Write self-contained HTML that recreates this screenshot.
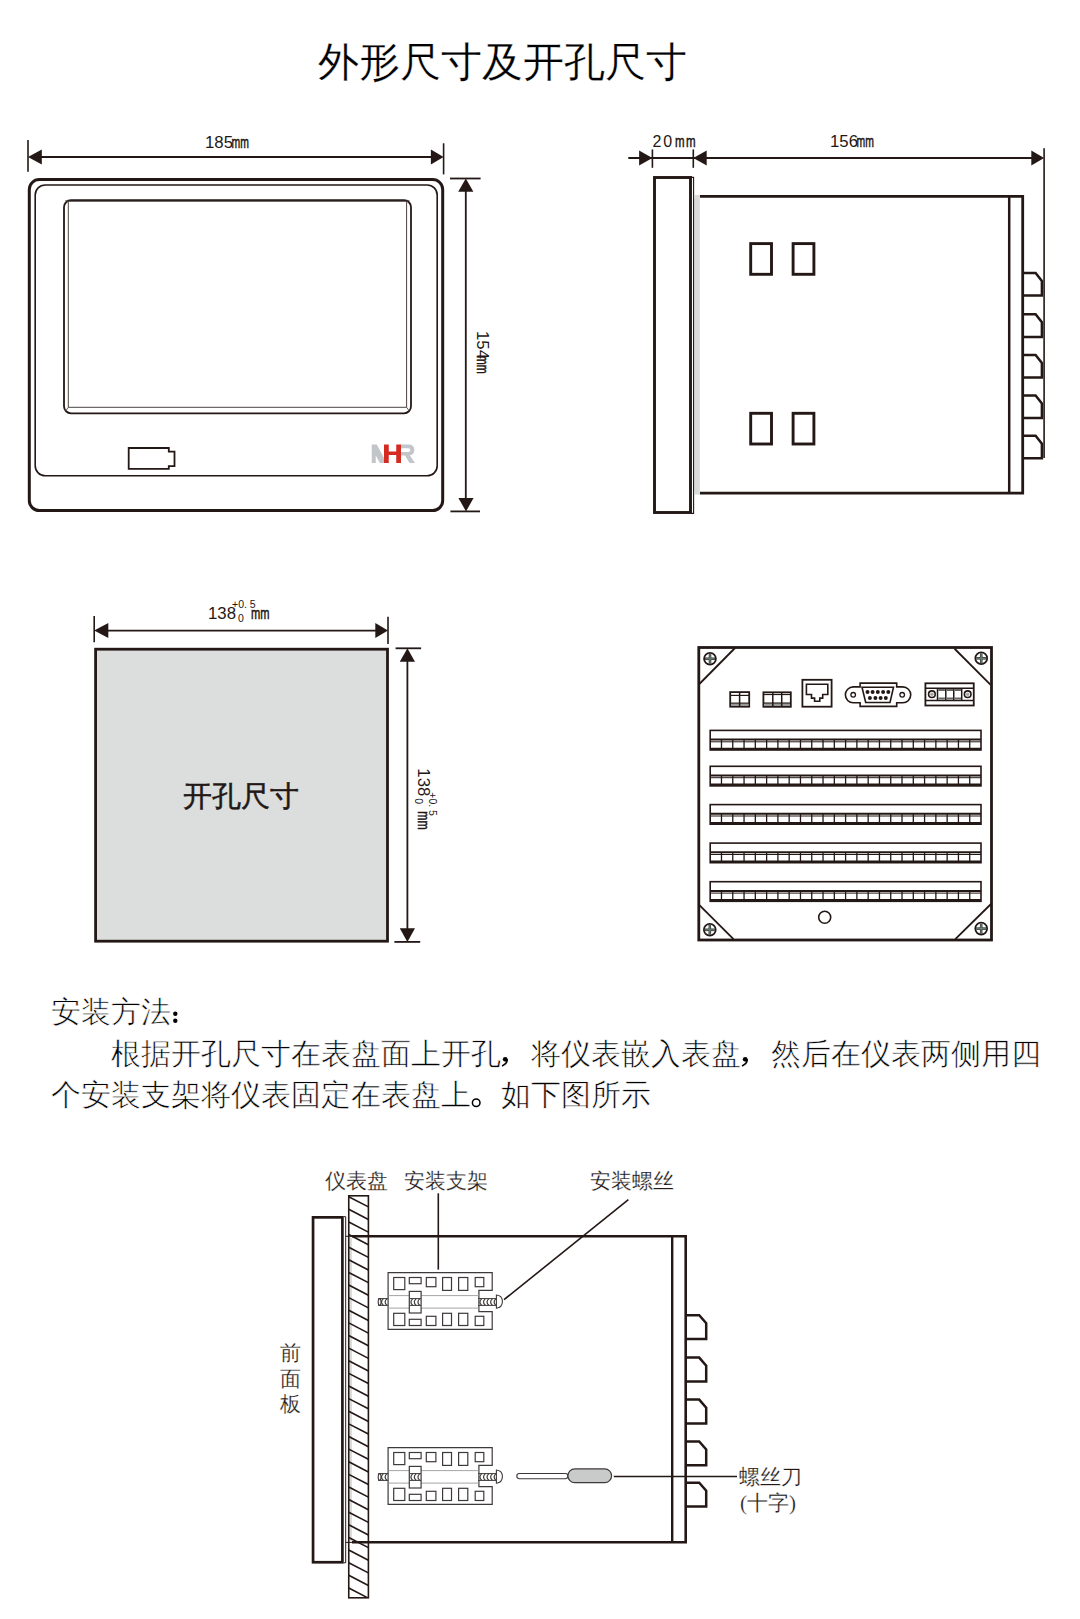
<!DOCTYPE html>
<html><head><meta charset="utf-8"><style>
html,body{margin:0;padding:0;background:#fff;width:1080px;height:1619px;overflow:hidden}
svg{display:block}
</style></head><body>
<svg width="1080" height="1619" viewBox="0 0 1080 1619">
<rect x="29.3" y="179.6" width="413.4" height="331" rx="10" fill="none" stroke="#231815" stroke-width="3" />
<rect x="35.2" y="185" width="402" height="290.8" rx="10" fill="none" stroke="#231815" stroke-width="1.6" />
<rect x="64" y="200.2" width="347" height="213.1" rx="7" fill="none" stroke="#231815" stroke-width="1.8" />
<path d="M68.3,201.3 H406.6 V407.3 H68.3 Z" fill="none" stroke="#4a4444" stroke-width="1" />
<line x1="68.3" y1="407.3" x2="65.3" y2="411.5" stroke="#4a4444" stroke-width="0.9" />
<line x1="406.6" y1="407.3" x2="409.6" y2="411.5" stroke="#4a4444" stroke-width="0.9" />
<line x1="68.3" y1="201.3" x2="65.5" y2="200.5" stroke="#4a4444" stroke-width="0.9" />
<line x1="406.6" y1="201.3" x2="409.4" y2="200.5" stroke="#4a4444" stroke-width="0.9" />
<line x1="28" y1="140" x2="28" y2="171.7" stroke="#231815" stroke-width="1.6" />
<line x1="443.6" y1="143.3" x2="443.6" y2="174.4" stroke="#231815" stroke-width="1.6" />
<line x1="38" y1="157" x2="433" y2="157" stroke="#231815" stroke-width="1.8" />
<polygon points="28,157 41.8,149.5 41.8,164.5" fill="#231815"/>
<polygon points="443.6,157 430.9,149.5 430.9,164.5" fill="#231815"/>
<line x1="450" y1="178.5" x2="480.6" y2="178.5" stroke="#231815" stroke-width="1.8" />
<line x1="450.4" y1="511.4" x2="480" y2="511.4" stroke="#231815" stroke-width="1.8" />
<line x1="465.8" y1="188" x2="465.8" y2="502" stroke="#231815" stroke-width="1.8" />
<polygon points="465.8,178.5 458.2,191.7 473.40000000000003,191.7" fill="#231815"/>
<polygon points="466,511.4 458.4,498 473.6,498" fill="#231815"/>
<path d="M128.7,448 H168.8 V451.7 H174.5 V466.2 H168.8 V468.8 H128.7 Z" fill="none" stroke="#231815" stroke-width="1.8" />
<polygon points="371.75,444.5 376.75,444.5 384,458 384,463 380,463 375.75,455.5 375.75,463 371.75,463" fill="#c2c5c9"/>
<path d="M384,444.5 H388.75 V451.5 H396.25 V444.5 H401 V463 H396.25 V455 H388.75 V463 H384 Z" fill="#d42a1f"/>
<path d="M401,444.5 H408.5 Q414.3,444.5 414.3,450 Q414.3,454.5 409.8,455.3 L414.9,463 H409.6 L405,455.6 H401 Z M401,448.2 V452 H408.2 Q410.4,452 410.4,450.1 Q410.4,448.2 408.2,448.2 Z" fill="#c2c5c9" fill-rule="evenodd"/>
<line x1="628.3" y1="158" x2="1040" y2="158" stroke="#231815" stroke-width="1.8" />
<line x1="652.4" y1="149.4" x2="652.4" y2="167.8" stroke="#231815" stroke-width="1.6" />
<line x1="693.3" y1="149.4" x2="693.3" y2="167.8" stroke="#231815" stroke-width="1.6" />
<line x1="1044.1" y1="148.3" x2="1044.1" y2="458" stroke="#231815" stroke-width="1.6" />
<polygon points="652.4,158 639.1,150.5 639.1,165.5" fill="#231815"/>
<polygon points="693.3,158 706.7,150.5 706.7,165.5" fill="#231815"/>
<polygon points="1044.1,158 1031.3,150.5 1031.3,165.5" fill="#231815"/>
<rect x="694.4" y="197.8" width="5.4" height="294.2" fill="#d9dada"/>
<rect x="654.5" y="177.5" width="36" height="335" rx="0" fill="none" stroke="#231815" stroke-width="2.9" />
<path d="M690.5,177.4 H693.6 V513.4 H690.5" fill="none" stroke="#231815" stroke-width="1.1" />
<path d="M700,196.4 H1022.7 V493.2 H700" fill="none" stroke="#231815" stroke-width="2.8" />
<line x1="694" y1="196.4" x2="700" y2="196.4" stroke="#d9dada" stroke-width="2.8" />
<line x1="694" y1="493.2" x2="700" y2="493.2" stroke="#d9dada" stroke-width="2.8" />
<line x1="1009.2" y1="196.4" x2="1009.2" y2="493.2" stroke="#231815" stroke-width="2.5" />
<rect x="750.7" y="243.6" width="20.8" height="30.7" rx="0" fill="none" stroke="#231815" stroke-width="2.9" />
<rect x="750.7" y="413.3" width="20.8" height="30.7" rx="0" fill="none" stroke="#231815" stroke-width="2.9" />
<rect x="793.1" y="243.6" width="20.8" height="30.7" rx="0" fill="none" stroke="#231815" stroke-width="2.9" />
<rect x="793.1" y="413.3" width="20.8" height="30.7" rx="0" fill="none" stroke="#231815" stroke-width="2.9" />
<path d="M1022.7,273 H1035.6 L1041.9,281 V295.6 H1022.7" fill="none" stroke="#231815" stroke-width="2.5" />
<path d="M1022.7,314.3 H1035.6 L1041.9,322.3 V336.90000000000003 H1022.7" fill="none" stroke="#231815" stroke-width="2.5" />
<path d="M1022.7,355 H1035.6 L1041.9,363 V377.6 H1022.7" fill="none" stroke="#231815" stroke-width="2.5" />
<path d="M1022.7,395.5 H1035.6 L1041.9,403.5 V418.1 H1022.7" fill="none" stroke="#231815" stroke-width="2.5" />
<path d="M1022.7,435.7 H1035.6 L1041.9,443.7 V458.3 H1022.7" fill="none" stroke="#231815" stroke-width="2.5" />
<rect x="95.6" y="649.2" width="291.9" height="292" rx="0" fill="#dcdddd" stroke="#231815" stroke-width="2.8" />
<line x1="94.2" y1="616.1" x2="94.2" y2="642.2" stroke="#231815" stroke-width="1.6" />
<line x1="388" y1="616.7" x2="388" y2="643.9" stroke="#231815" stroke-width="1.6" />
<line x1="104" y1="630.6" x2="378" y2="630.6" stroke="#231815" stroke-width="1.8" />
<polygon points="94.2,630.6 108.3,623.1 108.3,638.1" fill="#231815"/>
<polygon points="388,630.6 375.3,623.1 375.3,638.1" fill="#231815"/>
<line x1="395.6" y1="648.3" x2="421.1" y2="648.3" stroke="#231815" stroke-width="1.8" />
<line x1="394.4" y1="941.9" x2="420.2" y2="941.9" stroke="#231815" stroke-width="1.8" />
<line x1="407.4" y1="658" x2="407.4" y2="932" stroke="#231815" stroke-width="1.8" />
<polygon points="407.4,648.3 399.79999999999995,661.7 415.0,661.7" fill="#231815"/>
<polygon points="407.4,941.9 399.79999999999995,928.3 415.0,928.3" fill="#231815"/>
<rect x="698.8" y="647.5" width="292.7" height="292.5" rx="0" fill="none" stroke="#231815" stroke-width="2.8" />
<line x1="735" y1="648" x2="699.6" y2="683.75" stroke="#231815" stroke-width="1.8" />
<line x1="954.6" y1="648.75" x2="990.4" y2="684.6" stroke="#231815" stroke-width="1.8" />
<line x1="699.4" y1="905.1" x2="733.5" y2="939.2" stroke="#231815" stroke-width="1.8" />
<line x1="955.3" y1="939.2" x2="991" y2="904" stroke="#231815" stroke-width="1.8" />
<circle cx="710" cy="658.75" r="5.9" fill="none" stroke="#231815" stroke-width="1.8"/>
<line x1="705" y1="658.75" x2="715" y2="658.75" stroke="#3a4540" stroke-width="2.6" />
<line x1="710" y1="653.75" x2="710" y2="663.75" stroke="#3a4540" stroke-width="2.6" />
<line x1="705.4" y1="658.75" x2="714.6" y2="658.75" stroke="#8d9994" stroke-width="0.7" />
<line x1="710" y1="654.15" x2="710" y2="663.35" stroke="#8d9994" stroke-width="0.7" />
<circle cx="981.25" cy="658.3" r="5.9" fill="none" stroke="#231815" stroke-width="1.8"/>
<line x1="976.25" y1="658.3" x2="986.25" y2="658.3" stroke="#3a4540" stroke-width="2.6" />
<line x1="981.25" y1="653.3" x2="981.25" y2="663.3" stroke="#3a4540" stroke-width="2.6" />
<line x1="976.65" y1="658.3" x2="985.85" y2="658.3" stroke="#8d9994" stroke-width="0.7" />
<line x1="981.25" y1="653.6999999999999" x2="981.25" y2="662.9" stroke="#8d9994" stroke-width="0.7" />
<circle cx="709.8" cy="929.8" r="5.9" fill="none" stroke="#231815" stroke-width="1.8"/>
<line x1="704.8" y1="929.8" x2="714.8" y2="929.8" stroke="#3a4540" stroke-width="2.6" />
<line x1="709.8" y1="924.8" x2="709.8" y2="934.8" stroke="#3a4540" stroke-width="2.6" />
<line x1="705.1999999999999" y1="929.8" x2="714.4" y2="929.8" stroke="#8d9994" stroke-width="0.7" />
<line x1="709.8" y1="925.1999999999999" x2="709.8" y2="934.4" stroke="#8d9994" stroke-width="0.7" />
<circle cx="981.2" cy="928.6" r="5.9" fill="none" stroke="#231815" stroke-width="1.8"/>
<line x1="976.2" y1="928.6" x2="986.2" y2="928.6" stroke="#3a4540" stroke-width="2.6" />
<line x1="981.2" y1="923.6" x2="981.2" y2="933.6" stroke="#3a4540" stroke-width="2.6" />
<line x1="976.6" y1="928.6" x2="985.8000000000001" y2="928.6" stroke="#8d9994" stroke-width="0.7" />
<line x1="981.2" y1="924.0" x2="981.2" y2="933.2" stroke="#8d9994" stroke-width="0.7" />
<rect x="730.2" y="692.1" width="19" height="14.6" rx="0" fill="none" stroke="#231815" stroke-width="1.8" />
<line x1="730.2" y1="695.4" x2="749.2" y2="695.4" stroke="#231815" stroke-width="1.2" />
<line x1="730.2" y1="703.3" x2="749.2" y2="703.3" stroke="#231815" stroke-width="1.5" />
<rect x="731" y="703.6" width="17.4" height="2.4" fill="#999"/>
<line x1="739.6" y1="692.1" x2="739.6" y2="706.7" stroke="#231815" stroke-width="1.5" />
<rect x="763.4" y="692.3" width="27.4" height="14.5" rx="0" fill="none" stroke="#231815" stroke-width="1.8" />
<line x1="763.4" y1="694.5" x2="790.8" y2="694.5" stroke="#231815" stroke-width="1.2" />
<line x1="763.4" y1="703.2" x2="790.8" y2="703.2" stroke="#231815" stroke-width="1.5" />
<rect x="764.2" y="703.6" width="25.8" height="2.4" fill="#999"/>
<line x1="772.8" y1="692.3" x2="772.8" y2="706.8" stroke="#231815" stroke-width="1.5" />
<line x1="781.7" y1="692.3" x2="781.7" y2="706.8" stroke="#231815" stroke-width="1.5" />
<rect x="802.4" y="679.8" width="29.2" height="26.9" rx="0" fill="none" stroke="#231815" stroke-width="1.8" />
<path d="M806.4,684.3 H827.8 V694.5 H822.7 V698.1 H819.8 V701.2 H814.6 V698.1 H811.5 V694.5 H806.4 Z" fill="none" stroke="#231815" stroke-width="1.6" />
<path d="M860.1,686.9 H853.3 A7.95,7.95 0 0 0 853.3,702.8 H860.1 V706.4 H896.7 V702.8 H902.8 A7.95,7.95 0 0 0 902.8,686.9 H896.7 V683.1 H860.1 Z" fill="none" stroke="#231815" stroke-width="1.6" />
<path d="M862,687.2 H893.5 L890,702.5 H865.7 Z" fill="none" stroke="#231815" stroke-width="1.6" />
<circle cx="867.5" cy="692.1" r="2" fill="#231815"/>
<circle cx="872.6" cy="692.1" r="2" fill="#231815"/>
<circle cx="877.8" cy="692.1" r="2" fill="#231815"/>
<circle cx="883.1" cy="692.1" r="2" fill="#231815"/>
<circle cx="888.3" cy="692.1" r="2" fill="#231815"/>
<circle cx="869.9" cy="697.9" r="2" fill="#231815"/>
<circle cx="875.4" cy="697.9" r="2" fill="#231815"/>
<circle cx="880.6" cy="697.9" r="2" fill="#231815"/>
<circle cx="885.8" cy="697.9" r="2" fill="#231815"/>
<circle cx="853.2" cy="694.8" r="2.3" fill="none" stroke="#231815" stroke-width="1.3"/>
<circle cx="902.2" cy="694.8" r="2.3" fill="none" stroke="#231815" stroke-width="1.3"/>
<rect x="925.4" y="683.3" width="48.35" height="22.2" rx="0" fill="none" stroke="#231815" stroke-width="1.8" />
<line x1="925.4" y1="688.3" x2="973.75" y2="688.3" stroke="#231815" stroke-width="1.5" />
<line x1="925.4" y1="700.4" x2="973.75" y2="700.4" stroke="#231815" stroke-width="1.5" />
<line x1="937.5" y1="688.3" x2="937.5" y2="700.4" stroke="#231815" stroke-width="1.5" />
<line x1="945.8" y1="688.3" x2="945.8" y2="700.4" stroke="#231815" stroke-width="1.5" />
<line x1="953.75" y1="688.3" x2="953.75" y2="700.4" stroke="#231815" stroke-width="1.5" />
<line x1="961.7" y1="688.3" x2="961.7" y2="700.4" stroke="#231815" stroke-width="1.5" />
<rect x="938.3" y="689" width="6.6" height="2" fill="#666"/>
<rect x="938.3" y="697.5" width="6.6" height="2" fill="#666"/>
<rect x="946.6" y="689" width="6.6" height="2" fill="#666"/>
<rect x="946.6" y="697.5" width="6.6" height="2" fill="#666"/>
<rect x="954.5" y="689" width="6.6" height="2" fill="#666"/>
<rect x="954.5" y="697.5" width="6.6" height="2" fill="#666"/>
<circle cx="931.9" cy="694.2" r="3.3" fill="none" stroke="#231815" stroke-width="1.6"/>
<circle cx="931.9" cy="694.2" r="1.8" fill="#aaa"/>
<circle cx="967.7" cy="694.2" r="3.3" fill="none" stroke="#231815" stroke-width="1.6"/>
<circle cx="967.7" cy="694.2" r="1.8" fill="#aaa"/>
<rect x="710.2" y="730.4" width="270.8" height="19.6" rx="0" fill="none" stroke="#231815" stroke-width="1.6" />
<line x1="710.2" y1="739.6" x2="981" y2="739.6" stroke="#231815" stroke-width="2.0" />
<line x1="710.2" y1="741.8" x2="981" y2="741.8" stroke="#231815" stroke-width="1.0" />
<line x1="710.2" y1="748.8" x2="981" y2="748.8" stroke="#231815" stroke-width="2.2" />
<line x1="721.48" y1="739.6" x2="721.48" y2="750.0" stroke="#231815" stroke-width="1.3" />
<line x1="732.77" y1="739.6" x2="732.77" y2="750.0" stroke="#231815" stroke-width="1.3" />
<line x1="744.05" y1="739.6" x2="744.05" y2="750.0" stroke="#231815" stroke-width="1.3" />
<line x1="755.33" y1="739.6" x2="755.33" y2="750.0" stroke="#231815" stroke-width="1.3" />
<line x1="766.62" y1="739.6" x2="766.62" y2="750.0" stroke="#231815" stroke-width="1.3" />
<line x1="777.9" y1="739.6" x2="777.9" y2="750.0" stroke="#231815" stroke-width="1.3" />
<line x1="789.18" y1="739.6" x2="789.18" y2="750.0" stroke="#231815" stroke-width="1.3" />
<line x1="800.47" y1="739.6" x2="800.47" y2="750.0" stroke="#231815" stroke-width="1.3" />
<line x1="811.75" y1="739.6" x2="811.75" y2="750.0" stroke="#231815" stroke-width="1.3" />
<line x1="823.03" y1="739.6" x2="823.03" y2="750.0" stroke="#231815" stroke-width="1.3" />
<line x1="834.32" y1="739.6" x2="834.32" y2="750.0" stroke="#231815" stroke-width="1.3" />
<line x1="845.6" y1="739.6" x2="845.6" y2="750.0" stroke="#231815" stroke-width="1.3" />
<line x1="856.88" y1="739.6" x2="856.88" y2="750.0" stroke="#231815" stroke-width="1.3" />
<line x1="868.17" y1="739.6" x2="868.17" y2="750.0" stroke="#231815" stroke-width="1.3" />
<line x1="879.45" y1="739.6" x2="879.45" y2="750.0" stroke="#231815" stroke-width="1.3" />
<line x1="890.73" y1="739.6" x2="890.73" y2="750.0" stroke="#231815" stroke-width="1.3" />
<line x1="902.02" y1="739.6" x2="902.02" y2="750.0" stroke="#231815" stroke-width="1.3" />
<line x1="913.3" y1="739.6" x2="913.3" y2="750.0" stroke="#231815" stroke-width="1.3" />
<line x1="924.58" y1="739.6" x2="924.58" y2="750.0" stroke="#231815" stroke-width="1.3" />
<line x1="935.87" y1="739.6" x2="935.87" y2="750.0" stroke="#231815" stroke-width="1.3" />
<line x1="947.15" y1="739.6" x2="947.15" y2="750.0" stroke="#231815" stroke-width="1.3" />
<line x1="958.43" y1="739.6" x2="958.43" y2="750.0" stroke="#231815" stroke-width="1.3" />
<line x1="969.72" y1="739.6" x2="969.72" y2="750.0" stroke="#231815" stroke-width="1.3" />
<rect x="710.2" y="766.3" width="270.8" height="19.6" rx="0" fill="none" stroke="#231815" stroke-width="1.6" />
<line x1="710.2" y1="775.5" x2="981" y2="775.5" stroke="#231815" stroke-width="2.0" />
<line x1="710.2" y1="777.6999999999999" x2="981" y2="777.6999999999999" stroke="#231815" stroke-width="1.0" />
<line x1="710.2" y1="784.6999999999999" x2="981" y2="784.6999999999999" stroke="#231815" stroke-width="2.2" />
<line x1="721.48" y1="775.5" x2="721.48" y2="785.9" stroke="#231815" stroke-width="1.3" />
<line x1="732.77" y1="775.5" x2="732.77" y2="785.9" stroke="#231815" stroke-width="1.3" />
<line x1="744.05" y1="775.5" x2="744.05" y2="785.9" stroke="#231815" stroke-width="1.3" />
<line x1="755.33" y1="775.5" x2="755.33" y2="785.9" stroke="#231815" stroke-width="1.3" />
<line x1="766.62" y1="775.5" x2="766.62" y2="785.9" stroke="#231815" stroke-width="1.3" />
<line x1="777.9" y1="775.5" x2="777.9" y2="785.9" stroke="#231815" stroke-width="1.3" />
<line x1="789.18" y1="775.5" x2="789.18" y2="785.9" stroke="#231815" stroke-width="1.3" />
<line x1="800.47" y1="775.5" x2="800.47" y2="785.9" stroke="#231815" stroke-width="1.3" />
<line x1="811.75" y1="775.5" x2="811.75" y2="785.9" stroke="#231815" stroke-width="1.3" />
<line x1="823.03" y1="775.5" x2="823.03" y2="785.9" stroke="#231815" stroke-width="1.3" />
<line x1="834.32" y1="775.5" x2="834.32" y2="785.9" stroke="#231815" stroke-width="1.3" />
<line x1="845.6" y1="775.5" x2="845.6" y2="785.9" stroke="#231815" stroke-width="1.3" />
<line x1="856.88" y1="775.5" x2="856.88" y2="785.9" stroke="#231815" stroke-width="1.3" />
<line x1="868.17" y1="775.5" x2="868.17" y2="785.9" stroke="#231815" stroke-width="1.3" />
<line x1="879.45" y1="775.5" x2="879.45" y2="785.9" stroke="#231815" stroke-width="1.3" />
<line x1="890.73" y1="775.5" x2="890.73" y2="785.9" stroke="#231815" stroke-width="1.3" />
<line x1="902.02" y1="775.5" x2="902.02" y2="785.9" stroke="#231815" stroke-width="1.3" />
<line x1="913.3" y1="775.5" x2="913.3" y2="785.9" stroke="#231815" stroke-width="1.3" />
<line x1="924.58" y1="775.5" x2="924.58" y2="785.9" stroke="#231815" stroke-width="1.3" />
<line x1="935.87" y1="775.5" x2="935.87" y2="785.9" stroke="#231815" stroke-width="1.3" />
<line x1="947.15" y1="775.5" x2="947.15" y2="785.9" stroke="#231815" stroke-width="1.3" />
<line x1="958.43" y1="775.5" x2="958.43" y2="785.9" stroke="#231815" stroke-width="1.3" />
<line x1="969.72" y1="775.5" x2="969.72" y2="785.9" stroke="#231815" stroke-width="1.3" />
<rect x="710.2" y="804.6" width="270.8" height="19.6" rx="0" fill="none" stroke="#231815" stroke-width="1.6" />
<line x1="710.2" y1="813.8000000000001" x2="981" y2="813.8000000000001" stroke="#231815" stroke-width="2.0" />
<line x1="710.2" y1="816.0" x2="981" y2="816.0" stroke="#231815" stroke-width="1.0" />
<line x1="710.2" y1="823.0" x2="981" y2="823.0" stroke="#231815" stroke-width="2.2" />
<line x1="721.48" y1="813.8000000000001" x2="721.48" y2="824.2" stroke="#231815" stroke-width="1.3" />
<line x1="732.77" y1="813.8000000000001" x2="732.77" y2="824.2" stroke="#231815" stroke-width="1.3" />
<line x1="744.05" y1="813.8000000000001" x2="744.05" y2="824.2" stroke="#231815" stroke-width="1.3" />
<line x1="755.33" y1="813.8000000000001" x2="755.33" y2="824.2" stroke="#231815" stroke-width="1.3" />
<line x1="766.62" y1="813.8000000000001" x2="766.62" y2="824.2" stroke="#231815" stroke-width="1.3" />
<line x1="777.9" y1="813.8000000000001" x2="777.9" y2="824.2" stroke="#231815" stroke-width="1.3" />
<line x1="789.18" y1="813.8000000000001" x2="789.18" y2="824.2" stroke="#231815" stroke-width="1.3" />
<line x1="800.47" y1="813.8000000000001" x2="800.47" y2="824.2" stroke="#231815" stroke-width="1.3" />
<line x1="811.75" y1="813.8000000000001" x2="811.75" y2="824.2" stroke="#231815" stroke-width="1.3" />
<line x1="823.03" y1="813.8000000000001" x2="823.03" y2="824.2" stroke="#231815" stroke-width="1.3" />
<line x1="834.32" y1="813.8000000000001" x2="834.32" y2="824.2" stroke="#231815" stroke-width="1.3" />
<line x1="845.6" y1="813.8000000000001" x2="845.6" y2="824.2" stroke="#231815" stroke-width="1.3" />
<line x1="856.88" y1="813.8000000000001" x2="856.88" y2="824.2" stroke="#231815" stroke-width="1.3" />
<line x1="868.17" y1="813.8000000000001" x2="868.17" y2="824.2" stroke="#231815" stroke-width="1.3" />
<line x1="879.45" y1="813.8000000000001" x2="879.45" y2="824.2" stroke="#231815" stroke-width="1.3" />
<line x1="890.73" y1="813.8000000000001" x2="890.73" y2="824.2" stroke="#231815" stroke-width="1.3" />
<line x1="902.02" y1="813.8000000000001" x2="902.02" y2="824.2" stroke="#231815" stroke-width="1.3" />
<line x1="913.3" y1="813.8000000000001" x2="913.3" y2="824.2" stroke="#231815" stroke-width="1.3" />
<line x1="924.58" y1="813.8000000000001" x2="924.58" y2="824.2" stroke="#231815" stroke-width="1.3" />
<line x1="935.87" y1="813.8000000000001" x2="935.87" y2="824.2" stroke="#231815" stroke-width="1.3" />
<line x1="947.15" y1="813.8000000000001" x2="947.15" y2="824.2" stroke="#231815" stroke-width="1.3" />
<line x1="958.43" y1="813.8000000000001" x2="958.43" y2="824.2" stroke="#231815" stroke-width="1.3" />
<line x1="969.72" y1="813.8000000000001" x2="969.72" y2="824.2" stroke="#231815" stroke-width="1.3" />
<rect x="710.2" y="843.1" width="270.8" height="19.6" rx="0" fill="none" stroke="#231815" stroke-width="1.6" />
<line x1="710.2" y1="852.3000000000001" x2="981" y2="852.3000000000001" stroke="#231815" stroke-width="2.0" />
<line x1="710.2" y1="854.5" x2="981" y2="854.5" stroke="#231815" stroke-width="1.0" />
<line x1="710.2" y1="861.5" x2="981" y2="861.5" stroke="#231815" stroke-width="2.2" />
<line x1="721.48" y1="852.3000000000001" x2="721.48" y2="862.7" stroke="#231815" stroke-width="1.3" />
<line x1="732.77" y1="852.3000000000001" x2="732.77" y2="862.7" stroke="#231815" stroke-width="1.3" />
<line x1="744.05" y1="852.3000000000001" x2="744.05" y2="862.7" stroke="#231815" stroke-width="1.3" />
<line x1="755.33" y1="852.3000000000001" x2="755.33" y2="862.7" stroke="#231815" stroke-width="1.3" />
<line x1="766.62" y1="852.3000000000001" x2="766.62" y2="862.7" stroke="#231815" stroke-width="1.3" />
<line x1="777.9" y1="852.3000000000001" x2="777.9" y2="862.7" stroke="#231815" stroke-width="1.3" />
<line x1="789.18" y1="852.3000000000001" x2="789.18" y2="862.7" stroke="#231815" stroke-width="1.3" />
<line x1="800.47" y1="852.3000000000001" x2="800.47" y2="862.7" stroke="#231815" stroke-width="1.3" />
<line x1="811.75" y1="852.3000000000001" x2="811.75" y2="862.7" stroke="#231815" stroke-width="1.3" />
<line x1="823.03" y1="852.3000000000001" x2="823.03" y2="862.7" stroke="#231815" stroke-width="1.3" />
<line x1="834.32" y1="852.3000000000001" x2="834.32" y2="862.7" stroke="#231815" stroke-width="1.3" />
<line x1="845.6" y1="852.3000000000001" x2="845.6" y2="862.7" stroke="#231815" stroke-width="1.3" />
<line x1="856.88" y1="852.3000000000001" x2="856.88" y2="862.7" stroke="#231815" stroke-width="1.3" />
<line x1="868.17" y1="852.3000000000001" x2="868.17" y2="862.7" stroke="#231815" stroke-width="1.3" />
<line x1="879.45" y1="852.3000000000001" x2="879.45" y2="862.7" stroke="#231815" stroke-width="1.3" />
<line x1="890.73" y1="852.3000000000001" x2="890.73" y2="862.7" stroke="#231815" stroke-width="1.3" />
<line x1="902.02" y1="852.3000000000001" x2="902.02" y2="862.7" stroke="#231815" stroke-width="1.3" />
<line x1="913.3" y1="852.3000000000001" x2="913.3" y2="862.7" stroke="#231815" stroke-width="1.3" />
<line x1="924.58" y1="852.3000000000001" x2="924.58" y2="862.7" stroke="#231815" stroke-width="1.3" />
<line x1="935.87" y1="852.3000000000001" x2="935.87" y2="862.7" stroke="#231815" stroke-width="1.3" />
<line x1="947.15" y1="852.3000000000001" x2="947.15" y2="862.7" stroke="#231815" stroke-width="1.3" />
<line x1="958.43" y1="852.3000000000001" x2="958.43" y2="862.7" stroke="#231815" stroke-width="1.3" />
<line x1="969.72" y1="852.3000000000001" x2="969.72" y2="862.7" stroke="#231815" stroke-width="1.3" />
<rect x="710.2" y="881.7" width="270.8" height="19.6" rx="0" fill="none" stroke="#231815" stroke-width="1.6" />
<line x1="710.2" y1="890.9000000000001" x2="981" y2="890.9000000000001" stroke="#231815" stroke-width="2.0" />
<line x1="710.2" y1="893.1" x2="981" y2="893.1" stroke="#231815" stroke-width="1.0" />
<line x1="710.2" y1="900.1" x2="981" y2="900.1" stroke="#231815" stroke-width="2.2" />
<line x1="721.48" y1="890.9000000000001" x2="721.48" y2="901.3000000000001" stroke="#231815" stroke-width="1.3" />
<line x1="732.77" y1="890.9000000000001" x2="732.77" y2="901.3000000000001" stroke="#231815" stroke-width="1.3" />
<line x1="744.05" y1="890.9000000000001" x2="744.05" y2="901.3000000000001" stroke="#231815" stroke-width="1.3" />
<line x1="755.33" y1="890.9000000000001" x2="755.33" y2="901.3000000000001" stroke="#231815" stroke-width="1.3" />
<line x1="766.62" y1="890.9000000000001" x2="766.62" y2="901.3000000000001" stroke="#231815" stroke-width="1.3" />
<line x1="777.9" y1="890.9000000000001" x2="777.9" y2="901.3000000000001" stroke="#231815" stroke-width="1.3" />
<line x1="789.18" y1="890.9000000000001" x2="789.18" y2="901.3000000000001" stroke="#231815" stroke-width="1.3" />
<line x1="800.47" y1="890.9000000000001" x2="800.47" y2="901.3000000000001" stroke="#231815" stroke-width="1.3" />
<line x1="811.75" y1="890.9000000000001" x2="811.75" y2="901.3000000000001" stroke="#231815" stroke-width="1.3" />
<line x1="823.03" y1="890.9000000000001" x2="823.03" y2="901.3000000000001" stroke="#231815" stroke-width="1.3" />
<line x1="834.32" y1="890.9000000000001" x2="834.32" y2="901.3000000000001" stroke="#231815" stroke-width="1.3" />
<line x1="845.6" y1="890.9000000000001" x2="845.6" y2="901.3000000000001" stroke="#231815" stroke-width="1.3" />
<line x1="856.88" y1="890.9000000000001" x2="856.88" y2="901.3000000000001" stroke="#231815" stroke-width="1.3" />
<line x1="868.17" y1="890.9000000000001" x2="868.17" y2="901.3000000000001" stroke="#231815" stroke-width="1.3" />
<line x1="879.45" y1="890.9000000000001" x2="879.45" y2="901.3000000000001" stroke="#231815" stroke-width="1.3" />
<line x1="890.73" y1="890.9000000000001" x2="890.73" y2="901.3000000000001" stroke="#231815" stroke-width="1.3" />
<line x1="902.02" y1="890.9000000000001" x2="902.02" y2="901.3000000000001" stroke="#231815" stroke-width="1.3" />
<line x1="913.3" y1="890.9000000000001" x2="913.3" y2="901.3000000000001" stroke="#231815" stroke-width="1.3" />
<line x1="924.58" y1="890.9000000000001" x2="924.58" y2="901.3000000000001" stroke="#231815" stroke-width="1.3" />
<line x1="935.87" y1="890.9000000000001" x2="935.87" y2="901.3000000000001" stroke="#231815" stroke-width="1.3" />
<line x1="947.15" y1="890.9000000000001" x2="947.15" y2="901.3000000000001" stroke="#231815" stroke-width="1.3" />
<line x1="958.43" y1="890.9000000000001" x2="958.43" y2="901.3000000000001" stroke="#231815" stroke-width="1.3" />
<line x1="969.72" y1="890.9000000000001" x2="969.72" y2="901.3000000000001" stroke="#231815" stroke-width="1.3" />
<circle cx="824.7" cy="917.3" r="6" fill="none" stroke="#231815" stroke-width="1.6"/>
<rect x="349.6" y="1237.6" width="2.3" height="303.5" fill="#d9dada"/>
<defs><clipPath id="hc"><rect x="348.75" y="1195.8" width="19.65" height="402"/></clipPath></defs>
<g clip-path="url(#hc)">
<line x1="348.75" y1="1184.08" x2="368.4" y2="1194.28" stroke="#231815" stroke-width="1.6" />
<line x1="348.75" y1="1196.7" x2="368.4" y2="1206.9" stroke="#231815" stroke-width="1.6" />
<line x1="348.75" y1="1209.32" x2="368.4" y2="1219.52" stroke="#231815" stroke-width="1.6" />
<line x1="348.75" y1="1221.94" x2="368.4" y2="1232.14" stroke="#231815" stroke-width="1.6" />
<line x1="348.75" y1="1234.56" x2="368.4" y2="1244.76" stroke="#231815" stroke-width="1.6" />
<line x1="348.75" y1="1247.18" x2="368.4" y2="1257.38" stroke="#231815" stroke-width="1.6" />
<line x1="348.75" y1="1259.8" x2="368.4" y2="1270.0" stroke="#231815" stroke-width="1.6" />
<line x1="348.75" y1="1272.42" x2="368.4" y2="1282.62" stroke="#231815" stroke-width="1.6" />
<line x1="348.75" y1="1285.04" x2="368.4" y2="1295.24" stroke="#231815" stroke-width="1.6" />
<line x1="348.75" y1="1297.66" x2="368.4" y2="1307.86" stroke="#231815" stroke-width="1.6" />
<line x1="348.75" y1="1310.28" x2="368.4" y2="1320.48" stroke="#231815" stroke-width="1.6" />
<line x1="348.75" y1="1322.9" x2="368.4" y2="1333.1" stroke="#231815" stroke-width="1.6" />
<line x1="348.75" y1="1335.52" x2="368.4" y2="1345.72" stroke="#231815" stroke-width="1.6" />
<line x1="348.75" y1="1348.14" x2="368.4" y2="1358.34" stroke="#231815" stroke-width="1.6" />
<line x1="348.75" y1="1360.76" x2="368.4" y2="1370.96" stroke="#231815" stroke-width="1.6" />
<line x1="348.75" y1="1373.38" x2="368.4" y2="1383.58" stroke="#231815" stroke-width="1.6" />
<line x1="348.75" y1="1386.0" x2="368.4" y2="1396.2" stroke="#231815" stroke-width="1.6" />
<line x1="348.75" y1="1398.62" x2="368.4" y2="1408.82" stroke="#231815" stroke-width="1.6" />
<line x1="348.75" y1="1411.24" x2="368.4" y2="1421.44" stroke="#231815" stroke-width="1.6" />
<line x1="348.75" y1="1423.86" x2="368.4" y2="1434.06" stroke="#231815" stroke-width="1.6" />
<line x1="348.75" y1="1436.48" x2="368.4" y2="1446.68" stroke="#231815" stroke-width="1.6" />
<line x1="348.75" y1="1449.1" x2="368.4" y2="1459.3" stroke="#231815" stroke-width="1.6" />
<line x1="348.75" y1="1461.72" x2="368.4" y2="1471.92" stroke="#231815" stroke-width="1.6" />
<line x1="348.75" y1="1474.34" x2="368.4" y2="1484.54" stroke="#231815" stroke-width="1.6" />
<line x1="348.75" y1="1486.96" x2="368.4" y2="1497.16" stroke="#231815" stroke-width="1.6" />
<line x1="348.75" y1="1499.58" x2="368.4" y2="1509.78" stroke="#231815" stroke-width="1.6" />
<line x1="348.75" y1="1512.2" x2="368.4" y2="1522.4" stroke="#231815" stroke-width="1.6" />
<line x1="348.75" y1="1524.82" x2="368.4" y2="1535.02" stroke="#231815" stroke-width="1.6" />
<line x1="348.75" y1="1537.44" x2="368.4" y2="1547.64" stroke="#231815" stroke-width="1.6" />
<line x1="348.75" y1="1550.06" x2="368.4" y2="1560.26" stroke="#231815" stroke-width="1.6" />
<line x1="348.75" y1="1562.68" x2="368.4" y2="1572.88" stroke="#231815" stroke-width="1.6" />
<line x1="348.75" y1="1575.3" x2="368.4" y2="1585.5" stroke="#231815" stroke-width="1.6" />
<line x1="348.75" y1="1587.92" x2="368.4" y2="1598.12" stroke="#231815" stroke-width="1.6" />
<line x1="348.75" y1="1600.54" x2="368.4" y2="1610.74" stroke="#231815" stroke-width="1.6" />
</g>
<rect x="348.75" y="1195.8" width="19.65" height="402" rx="0" fill="none" stroke="#231815" stroke-width="1.6" />
<rect x="313.05" y="1217.35" width="29.35" height="344.9" rx="0" fill="none" stroke="#231815" stroke-width="2.7" />
<path d="M343.75,1216.7 H345.7 V1562.8 H343.75" fill="none" stroke="#231815" stroke-width="1" />
<line x1="345.7" y1="1236.3" x2="352" y2="1236.3" stroke="#231815" stroke-width="1" />
<line x1="345.7" y1="1542.4" x2="352" y2="1542.4" stroke="#231815" stroke-width="1" />
<path d="M352,1236.3 H685.7 V1542.3 H352" fill="none" stroke="#231815" stroke-width="2.6" />
<line x1="672.2" y1="1236.3" x2="672.2" y2="1542.3" stroke="#231815" stroke-width="2.4" />
<path d="M685.7,1315.3 H699.2 L706.2,1323.3 V1339.1 H685.7" fill="none" stroke="#231815" stroke-width="2.5" />
<path d="M685.7,1357.6 H699.2 L706.2,1365.6 V1381.3999999999999 H685.7" fill="none" stroke="#231815" stroke-width="2.5" />
<path d="M685.7,1399.6 H699.2 L706.2,1407.6 V1423.3999999999999 H685.7" fill="none" stroke="#231815" stroke-width="2.5" />
<path d="M685.7,1441.4 H699.2 L706.2,1449.4 V1465.2 H685.7" fill="none" stroke="#231815" stroke-width="2.5" />
<path d="M685.7,1482.7 H699.2 L706.2,1490.7 V1506.5 H685.7" fill="none" stroke="#231815" stroke-width="2.5" />
<path d="M388.1,1272.6 H492.2 V1290.4 H478.9 V1311.6 H492.2 V1329.3 H388.1 Z" fill="none" stroke="#3e3a39" stroke-width="1.2" />
<line x1="388.1" y1="1295.6" x2="478.9" y2="1295.6" stroke="#9a9a9a" stroke-width="0.9" />
<line x1="388.1" y1="1308.1" x2="478.9" y2="1308.1" stroke="#9a9a9a" stroke-width="0.9" />
<rect x="393.7" y="1277.5" width="11.100000000000023" height="12.099999999999909" rx="0" fill="none" stroke="#3e3a39" stroke-width="1.2" />
<rect x="409.3" y="1277.5" width="11.800000000000011" height="6.2000000000000455" rx="0" fill="none" stroke="#3e3a39" stroke-width="1.2" />
<rect x="426.3" y="1277.5" width="9.599999999999966" height="9.200000000000045" rx="0" fill="none" stroke="#3e3a39" stroke-width="1.2" />
<rect x="442.6" y="1277.5" width="8.899999999999977" height="12.900000000000091" rx="0" fill="none" stroke="#3e3a39" stroke-width="1.2" />
<rect x="458.6" y="1277.5" width="9.199999999999989" height="12.900000000000091" rx="0" fill="none" stroke="#3e3a39" stroke-width="1.2" />
<rect x="475.2" y="1277.5" width="8.600000000000023" height="9.200000000000045" rx="0" fill="none" stroke="#3e3a39" stroke-width="1.2" />
<rect x="393.7" y="1313.3" width="11.100000000000023" height="12.200000000000045" rx="0" fill="none" stroke="#3e3a39" stroke-width="1.2" />
<rect x="409.3" y="1319.3" width="11.800000000000011" height="6.2000000000000455" rx="0" fill="none" stroke="#3e3a39" stroke-width="1.2" />
<rect x="426.3" y="1316.3" width="9.599999999999966" height="9.200000000000045" rx="0" fill="none" stroke="#3e3a39" stroke-width="1.2" />
<rect x="442.6" y="1313.3" width="8.899999999999977" height="12.200000000000045" rx="0" fill="none" stroke="#3e3a39" stroke-width="1.2" />
<rect x="458.6" y="1313.3" width="9.199999999999989" height="12.200000000000045" rx="0" fill="none" stroke="#3e3a39" stroke-width="1.2" />
<rect x="475.2" y="1316.3" width="8.600000000000023" height="9.200000000000045" rx="0" fill="none" stroke="#3e3a39" stroke-width="1.2" />
<rect x="409.3" y="1291.4" width="11.8" height="21.6" rx="0" fill="#fff" stroke="#3e3a39" stroke-width="1.2" />
<line x1="378.2" y1="1298.6" x2="388.1" y2="1298.6" stroke="#3e3a39" stroke-width="1.0" />
<line x1="378.2" y1="1305.4" x2="388.1" y2="1305.4" stroke="#3e3a39" stroke-width="1.0" />
<path d="M383.4,1298.6 Q379.59999999999997,1302.0 383.4,1305.4" fill="none" stroke="#3e3a39" stroke-width="1.2"/>
<path d="M387.0,1298.6 Q383.2,1302.0 387.0,1305.4" fill="none" stroke="#3e3a39" stroke-width="1.2"/>
<ellipse cx="379.59999999999997" cy="1302.0" rx="1.4" ry="3.400000000000091" fill="none" stroke="#3e3a39" stroke-width="1.1"/>
<line x1="409.8" y1="1298.6" x2="421" y2="1298.6" stroke="#3e3a39" stroke-width="1.0" />
<line x1="409.8" y1="1305.4" x2="421" y2="1305.4" stroke="#3e3a39" stroke-width="1.0" />
<path d="M412.8,1298.6 Q409.0,1302.0 412.8,1305.4" fill="none" stroke="#3e3a39" stroke-width="1.2"/>
<path d="M416.2,1298.6 Q412.4,1302.0 416.2,1305.4" fill="none" stroke="#3e3a39" stroke-width="1.2"/>
<path d="M419.8,1298.6 Q416.0,1302.0 419.8,1305.4" fill="none" stroke="#3e3a39" stroke-width="1.2"/>
<line x1="478.1" y1="1298.6" x2="496.3" y2="1298.6" stroke="#3e3a39" stroke-width="1.0" />
<line x1="478.1" y1="1305.4" x2="496.3" y2="1305.4" stroke="#3e3a39" stroke-width="1.0" />
<path d="M481.8,1298.6 Q478.0,1302.0 481.8,1305.4" fill="none" stroke="#3e3a39" stroke-width="1.2"/>
<path d="M485.4,1298.6 Q481.59999999999997,1302.0 485.4,1305.4" fill="none" stroke="#3e3a39" stroke-width="1.2"/>
<path d="M488.9,1298.6 Q485.09999999999997,1302.0 488.9,1305.4" fill="none" stroke="#3e3a39" stroke-width="1.2"/>
<path d="M492.5,1298.6 Q488.7,1302.0 492.5,1305.4" fill="none" stroke="#3e3a39" stroke-width="1.2"/>
<path d="M496.0,1298.6 Q492.2,1302.0 496.0,1305.4" fill="none" stroke="#3e3a39" stroke-width="1.2"/>
<path d="M496.4,1295 Q502.4,1295.6 502.4,1301.6 Q502.4,1307.6 496.4,1308.2 Z" fill="#fff" stroke="#3e3a39" stroke-width="1.1" />
<path d="M388.1,1447.6 H492.2 V1465.4 H478.9 V1486.6 H492.2 V1504.3 H388.1 Z" fill="none" stroke="#3e3a39" stroke-width="1.2" />
<line x1="388.1" y1="1470.6" x2="478.9" y2="1470.6" stroke="#9a9a9a" stroke-width="0.9" />
<line x1="388.1" y1="1483.1" x2="478.9" y2="1483.1" stroke="#9a9a9a" stroke-width="0.9" />
<rect x="393.7" y="1452.5" width="11.100000000000023" height="12.099999999999909" rx="0" fill="none" stroke="#3e3a39" stroke-width="1.2" />
<rect x="409.3" y="1452.5" width="11.800000000000011" height="6.2000000000000455" rx="0" fill="none" stroke="#3e3a39" stroke-width="1.2" />
<rect x="426.3" y="1452.5" width="9.599999999999966" height="9.200000000000045" rx="0" fill="none" stroke="#3e3a39" stroke-width="1.2" />
<rect x="442.6" y="1452.5" width="8.899999999999977" height="12.900000000000091" rx="0" fill="none" stroke="#3e3a39" stroke-width="1.2" />
<rect x="458.6" y="1452.5" width="9.199999999999989" height="12.900000000000091" rx="0" fill="none" stroke="#3e3a39" stroke-width="1.2" />
<rect x="475.2" y="1452.5" width="8.600000000000023" height="9.200000000000045" rx="0" fill="none" stroke="#3e3a39" stroke-width="1.2" />
<rect x="393.7" y="1488.3" width="11.100000000000023" height="12.200000000000045" rx="0" fill="none" stroke="#3e3a39" stroke-width="1.2" />
<rect x="409.3" y="1494.3" width="11.800000000000011" height="6.2000000000000455" rx="0" fill="none" stroke="#3e3a39" stroke-width="1.2" />
<rect x="426.3" y="1491.3" width="9.599999999999966" height="9.200000000000045" rx="0" fill="none" stroke="#3e3a39" stroke-width="1.2" />
<rect x="442.6" y="1488.3" width="8.899999999999977" height="12.200000000000045" rx="0" fill="none" stroke="#3e3a39" stroke-width="1.2" />
<rect x="458.6" y="1488.3" width="9.199999999999989" height="12.200000000000045" rx="0" fill="none" stroke="#3e3a39" stroke-width="1.2" />
<rect x="475.2" y="1491.3" width="8.600000000000023" height="9.200000000000045" rx="0" fill="none" stroke="#3e3a39" stroke-width="1.2" />
<rect x="409.3" y="1466.4" width="11.8" height="21.6" rx="0" fill="#fff" stroke="#3e3a39" stroke-width="1.2" />
<line x1="378.2" y1="1473.6" x2="388.1" y2="1473.6" stroke="#3e3a39" stroke-width="1.0" />
<line x1="378.2" y1="1480.4" x2="388.1" y2="1480.4" stroke="#3e3a39" stroke-width="1.0" />
<path d="M383.4,1473.6 Q379.59999999999997,1477.0 383.4,1480.4" fill="none" stroke="#3e3a39" stroke-width="1.2"/>
<path d="M387.0,1473.6 Q383.2,1477.0 387.0,1480.4" fill="none" stroke="#3e3a39" stroke-width="1.2"/>
<ellipse cx="379.59999999999997" cy="1477.0" rx="1.4" ry="3.400000000000091" fill="none" stroke="#3e3a39" stroke-width="1.1"/>
<line x1="409.8" y1="1473.6" x2="421" y2="1473.6" stroke="#3e3a39" stroke-width="1.0" />
<line x1="409.8" y1="1480.4" x2="421" y2="1480.4" stroke="#3e3a39" stroke-width="1.0" />
<path d="M412.8,1473.6 Q409.0,1477.0 412.8,1480.4" fill="none" stroke="#3e3a39" stroke-width="1.2"/>
<path d="M416.2,1473.6 Q412.4,1477.0 416.2,1480.4" fill="none" stroke="#3e3a39" stroke-width="1.2"/>
<path d="M419.8,1473.6 Q416.0,1477.0 419.8,1480.4" fill="none" stroke="#3e3a39" stroke-width="1.2"/>
<line x1="478.1" y1="1473.6" x2="496.3" y2="1473.6" stroke="#3e3a39" stroke-width="1.0" />
<line x1="478.1" y1="1480.4" x2="496.3" y2="1480.4" stroke="#3e3a39" stroke-width="1.0" />
<path d="M481.8,1473.6 Q478.0,1477.0 481.8,1480.4" fill="none" stroke="#3e3a39" stroke-width="1.2"/>
<path d="M485.4,1473.6 Q481.59999999999997,1477.0 485.4,1480.4" fill="none" stroke="#3e3a39" stroke-width="1.2"/>
<path d="M488.9,1473.6 Q485.09999999999997,1477.0 488.9,1480.4" fill="none" stroke="#3e3a39" stroke-width="1.2"/>
<path d="M492.5,1473.6 Q488.7,1477.0 492.5,1480.4" fill="none" stroke="#3e3a39" stroke-width="1.2"/>
<path d="M496.0,1473.6 Q492.2,1477.0 496.0,1480.4" fill="none" stroke="#3e3a39" stroke-width="1.2"/>
<path d="M496.4,1470 Q502.4,1470.6 502.4,1476.6 Q502.4,1482.6 496.4,1483.2 Z" fill="#fff" stroke="#3e3a39" stroke-width="1.1" />
<line x1="438.3" y1="1193.3" x2="438.3" y2="1269.6" stroke="#231815" stroke-width="1.6" />
<line x1="628.4" y1="1199.7" x2="504" y2="1299.7" stroke="#231815" stroke-width="1.6" />
<rect x="516.8" y="1473.5" width="51.1" height="5.2" rx="2.6" fill="none" stroke="#3e3a39" stroke-width="1.1" />
<rect x="567.9" y="1468.9" width="43.7" height="13.8" rx="6.9" fill="#c9caca" stroke="#3e3a39" stroke-width="1.2" />
<line x1="613.8" y1="1476.6" x2="737" y2="1476.6" stroke="#231815" stroke-width="1.5" />
<text x="318" y="75.5" font-size="41" font-family="Liberation Sans, sans-serif" fill="#000" stroke="#fff" stroke-width="0.25">外形尺寸及开孔尺寸</text>
<text x="205" y="147.6" font-size="16.8" font-family="Liberation Sans, sans-serif" fill="#231815">185</text>
<text transform="translate(231.5,147.6) scale(0.62,1)" font-size="16.8" font-family="Liberation Sans, sans-serif" fill="#231815" stroke="#231815" stroke-width="0.55">mm</text>
<text x="830" y="146.7" font-size="16.8" font-family="Liberation Sans, sans-serif" fill="#231815">156</text>
<text transform="translate(856.5,146.7) scale(0.62,1)" font-size="16.8" font-family="Liberation Sans, sans-serif" fill="#231815" stroke="#231815" stroke-width="0.55">mm</text>
<text x="652.5" y="147.2" font-size="16" letter-spacing="1.8" font-family="Liberation Sans, sans-serif" fill="#231815">20</text>
<text transform="translate(675,147.2) scale(0.72,1)" font-size="16" letter-spacing="2" font-family="Liberation Sans, sans-serif" fill="#231815" stroke="#231815" stroke-width="0.5">mm</text>
<g transform="translate(477.2,331) rotate(90)">
<text x="0" y="0" font-size="16.8" font-family="Liberation Sans, sans-serif" fill="#231815">154</text>
<text transform="translate(24.8,0) scale(0.64,1)" font-size="16.8" font-family="Liberation Sans, sans-serif" fill="#231815" stroke="#231815" stroke-width="0.55">mm</text>
</g>
<g transform="translate(208,618.75)">
<text x="0" y="0" font-size="16.8" font-family="Liberation Sans, sans-serif" fill="#231815">138</text>
<text x="24" y="-11" font-size="10.5" font-family="Liberation Sans, sans-serif" fill="#231815">+0. 5</text>
<text x="30" y="3" font-size="10.5" font-family="Liberation Sans, sans-serif" fill="#231815">0</text>
<text transform="translate(43,0) scale(0.66,1)" font-size="16.8" font-family="Liberation Sans, sans-serif" fill="#231815" stroke="#231815" stroke-width="0.55">mm</text>
</g>
<g transform="translate(417.8,768.3) rotate(90)">
<text x="0" y="0" font-size="16.8" font-family="Liberation Sans, sans-serif" fill="#231815">138</text>
<text x="24" y="-11" font-size="10.5" font-family="Liberation Sans, sans-serif" fill="#231815">+0. 5</text>
<text x="30" y="3" font-size="10.5" font-family="Liberation Sans, sans-serif" fill="#231815">0</text>
<text transform="translate(43,0) scale(0.66,1)" font-size="16.8" font-family="Liberation Sans, sans-serif" fill="#231815" stroke="#231815" stroke-width="0.55">mm</text>
</g>
<text x="183" y="806" font-size="29" font-weight="normal" stroke="#231815" stroke-width="0.5" font-family="Liberation Serif, serif" fill="#231815">开孔尺寸</text>
<circle cx="175.3" cy="1013.75" r="2.2" fill="#000"/><circle cx="175.3" cy="1020.7" r="2.2" fill="#000"/>
<text x="50.5 80.5 110.5 140.5" y="1021.5" font-size="30" font-family="Liberation Serif, serif" fill="#000" stroke="#fff" stroke-width="0.6">安装方法</text>
<circle cx="505.2" cy="1059.3" r="2.4" fill="#000"/>
<path d="M507.3,1059.3 Q507.2,1063.9 502.0,1065.9" fill="none" stroke="#000" stroke-width="1.6"/>
<circle cx="745.2" cy="1059.3" r="2.4" fill="#000"/>
<path d="M747.3,1059.3 Q747.2,1063.9 742.0,1065.9" fill="none" stroke="#000" stroke-width="1.6"/>
<text x="110.5 140.5 170.5 200.5 230.5 260.5 290.5 320.5 350.5 380.5 410.5 440.5 470.5 530.5 560.5 590.5 620.5 650.5 680.5 710.5 770.5 800.5 830.5 860.5 890.5 920.5 950.5 980.5 1010.5" y="1063.5" font-size="30" font-family="Liberation Serif, serif" fill="#000" stroke="#fff" stroke-width="0.6">根据开孔尺寸在表盘面上开孔将仪表嵌入表盘然后在仪表两侧用四</text>
<circle cx="476.2" cy="1102.8" r="3.8" fill="none" stroke="#000" stroke-width="1.5"/>
<text x="50.5 80.5 110.5 140.5 170.5 200.5 230.5 260.5 290.5 320.5 350.5 380.5 410.5 440.5 500.5 530.5 560.5 590.5 620.5" y="1105" font-size="30" font-family="Liberation Serif, serif" fill="#000" stroke="#fff" stroke-width="0.6">个安装支架将仪表固定在表盘上如下图所示</text>
<text x="324.5" y="1188" font-size="21" font-family="Liberation Serif, serif" fill="#231815" stroke="#fff" stroke-width="0.2">仪表盘</text>
<text x="403.5" y="1188" font-size="21" font-family="Liberation Serif, serif" fill="#231815" stroke="#fff" stroke-width="0.2">安装支架</text>
<text x="590" y="1188" font-size="21" font-family="Liberation Serif, serif" fill="#231815" stroke="#fff" stroke-width="0.2">安装螺丝</text>
<text x="279.5" y="1360" font-size="21" font-family="Liberation Serif, serif" fill="#231815" stroke="#fff" stroke-width="0.2">前</text>
<text x="279.5" y="1385.5" font-size="21" font-family="Liberation Serif, serif" fill="#231815" stroke="#fff" stroke-width="0.2">面</text>
<text x="279.5" y="1411" font-size="21" font-family="Liberation Serif, serif" fill="#231815" stroke="#fff" stroke-width="0.2">板</text>
<text x="739" y="1484" font-size="21" font-family="Liberation Serif, serif" fill="#231815" stroke="#fff" stroke-width="0.2">螺丝刀</text>
<text x="740" y="1510" font-size="21" font-family="Liberation Serif, serif" fill="#231815" stroke="#fff" stroke-width="0.2">(十字)</text>
</svg>
</body></html>
